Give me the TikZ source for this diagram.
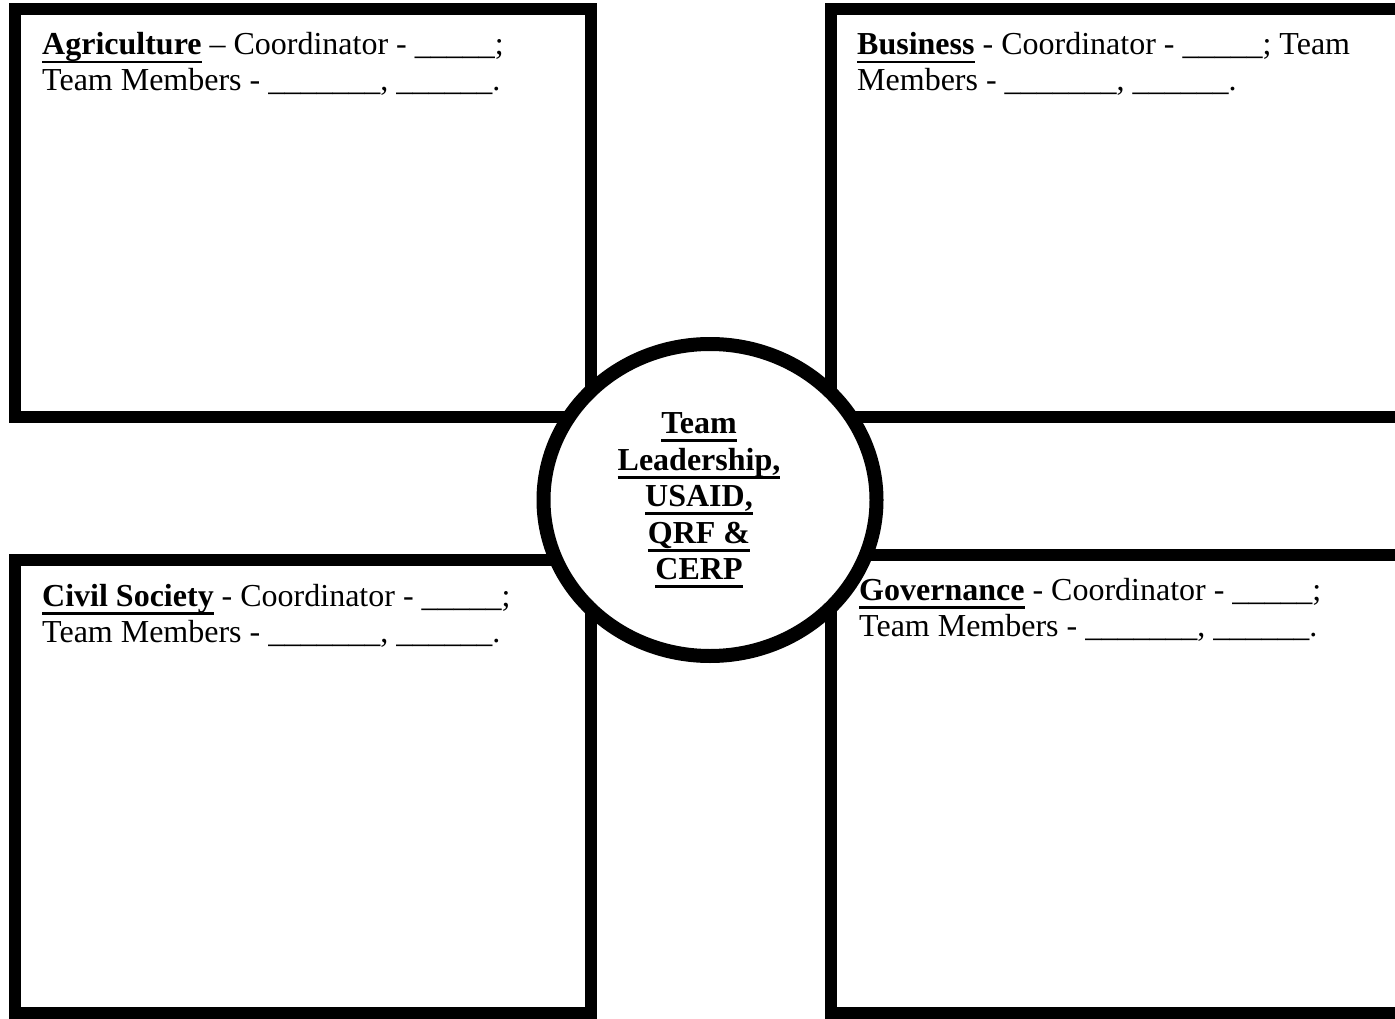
\documentclass[tikz,border=0pt]{standalone}
\usepackage{fontspec}
\setmainfont{Liberation Serif}
\newcommand\ulbox[1]{\setbox0=\hbox{#1}\rlap{\rule[-8.5pt]{\wd0}{2.5pt}}\box0\relax}
\tikzset{
  quad/.style={draw=black, line width=12pt, fill=white},
  hub/.style={draw=black, line width=14pt, fill=white},
  txt/.style={anchor=base west, inner sep=0pt, font=\fontsize{32}{36.8}\selectfont},
  ctxt/.style={anchor=base, inner sep=0pt, font=\fontsize{32}{36.8}\selectfont\bfseries},
}
\begin{document}
\begin{tikzpicture}[x=1pt,y=-1pt]
\clip (0,0) rectangle (1395,1019);
\fill[white] (0,0) rectangle (1395,1019);
% boxes
\draw[quad] (15,9) rectangle (591,417);
\draw[quad] (831,9) rectangle (1420,417);
\draw[quad] (15,560) rectangle (591,1013);
\draw[quad] (831,555) rectangle (1420,1013);
% hub
\draw[hub] (710,500) ellipse [x radius=166.5, y radius=156];
% texts
\node[txt] (agr1) at (42,55) {\ulbox{\bfseries Agriculture} – Coordinator - \_\_\_\_\_;};
\node[txt] (agr2) at (42,91) {Team Members - \_\_\_\_\_\_\_, \_\_\_\_\_\_.};
\node[txt] (bus1) at (857,55) {\ulbox{\bfseries Business} - Coordinator - \_\_\_\_\_; Team};
\node[txt] (bus2) at (857,91) {Members - \_\_\_\_\_\_\_, \_\_\_\_\_\_.};
\node[txt] (civ1) at (42,606) {\ulbox{\bfseries Civil Society} - Coordinator - \_\_\_\_\_;};
\node[txt] (civ2) at (42,642) {Team Members - \_\_\_\_\_\_\_, \_\_\_\_\_\_.};
\node[txt] (gov1) at (859,600) {\ulbox{\bfseries Governance} - Coordinator - \_\_\_\_\_;};
\node[txt] (gov2) at (859,636) {Team Members - \_\_\_\_\_\_\_, \_\_\_\_\_\_.};
\node[ctxt] (c1) at (699,433) {\ulbox{Team}};
\node[ctxt] (c2) at (699,470) {\ulbox{Leadership,}};
\node[ctxt] (c3) at (699,506) {\ulbox{USAID,}};
\node[ctxt] (c4) at (699,543) {\ulbox{QRF \&}};
\node[ctxt] (c5) at (699,579) {\ulbox{CERP}};
\end{tikzpicture}
\end{document}
